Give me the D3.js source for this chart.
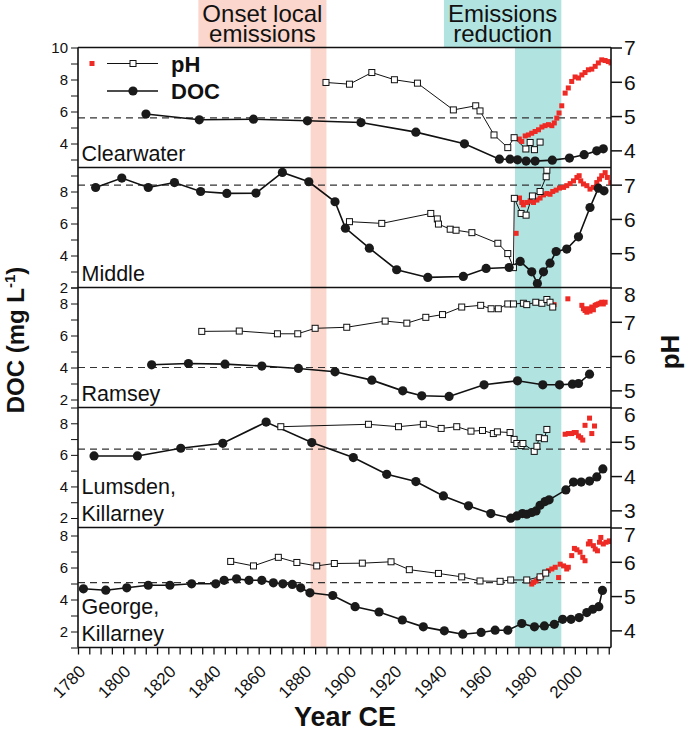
<!DOCTYPE html>
<html><head><meta charset="utf-8">
<script src="https://cdn.jsdelivr.net/npm/d3@7"></script>
<style>
body{margin:0;background:#fff}
svg{display:block}
text{font-family:"Liberation Sans",Arial,sans-serif;fill:#111}
</style>
</head><body>
<svg id="chart" width="685" height="731"></svg>
<script>
// ---------- axes / annotation data ----------
const yearDomain = [1780, 2016];
const xTickYears = d3.range(1780, 2016, 5);
const xLabelYears = d3.range(1780, 2001, 20);
const onsetBand = [1883, 1890];
const reductionBand = [1973.5, 1994];
const onsetLabel = ["Onset local", "emissions"];
const reductionLabel = ["Emissions", "reduction"];
const lakeNames = [["Clearwater"], ["Middle"], ["Ramsey"], ["Lumsden,", "Killarney"], ["George,", "Killarney"]];
const docDomains = [[2.5, 10], [2, 9.5], [1.5, 9], [1.4, 9], [1, 8.5]];
const phDomains = [[3.5, 7], [4, 7.5], [4.5, 8], [2.5, 6], [3.5, 7]];
const phTickValues = [[4, 5, 6, 7], [5, 6, 7], [5, 6, 7, 8], [3, 4, 5, 6], [4, 5, 6, 7]];
const preIndustrialDoc = [5.6, 8.4, 4.0, 6.36, 5.05];

// ---------- Clearwater ----------
const clearwaterDocYears = [1810.1,1833.7,1857.7,1881.6,1905.3,1929.6,1951.1,1966.6,1971.3,1974.6,1978.4,1982.4,1990,1997.6,2004.1,2009.7,2012.6];
const clearwaterDoc = [5.84,5.48,5.52,5.42,5.31,4.71,3.98,3.02,3.02,2.98,2.9,2.9,2.96,3.09,3.3,3.54,3.67];
const clearwaterPhYears = [1889.8,1900.2,1910.1,1920.1,1930.3,1946.2,1956.1,1958,1964.2,1970.3,1973.1,1978.3,1980.2,1982.1,1984.6];
const clearwaterPh = [5.98,5.93,6.27,6.06,5.96,5.18,5.3,5.15,4.45,4.08,4.37,4.04,4.23,4.02,4.24];
const clearwaterObsYears = [1975.4,1976.5,1978,1979.4,1980.9,1982.4,1983.9,1985.4,1986.8,1988.3,1989.8,1990.9,1992,1993,1994.2,1995.7,1997.1,1998.6,2000.1,2001.6,2003.1,2004.5,2006,2007.5,2009,2010.4,2011.9,2013.4,2014.8,2016];
const clearwaterObsPh = [4.33,4.26,4.42,4.45,4.5,4.55,4.6,4.68,4.72,4.75,4.72,4.8,4.94,5.09,5.3,5.67,5.82,6.01,6.14,6.11,6.2,6.27,6.35,6.37,6.45,6.55,6.64,6.62,6.59,6.55];

// ---------- Middle ----------
const middleDocYears = [1787.8,1799.4,1811.1,1822.7,1834.3,1845.9,1858.8,1870.5,1882.2,1893.8,1898.4,1909,1921.1,1934.9,1950.6,1960.7,1970.9,1975.8,1980.9,1983.4,1986.1,1989,1991.7,1996.4,2001.6,2006.7,2010.4,2012.9];
const middleDoc = [8.25,8.84,8.25,8.56,8.0,7.88,7.9,9.19,8.61,7.36,5.71,4.46,3.11,2.63,2.69,3.19,3.25,3.63,2.98,2.25,2.98,3.52,4.25,4.4,5.17,7.0,8.21,8.04];
const middlePhYears = [1900.2,1914.5,1936.2,1939.1,1939.6,1944.8,1947.4,1954.4,1965.9,1970.3,1972.8,1973.2,1976.2,1978.4,1981.2,1984.6,1987.3,1987.6];
const middlePh = [5.92,5.87,6.16,6.0,5.85,5.7,5.67,5.6,5.29,4.99,4.58,6.6,6.16,6.11,6.67,6.8,7.23,7.42];
const middleObsYears = [1974,1975.5,1976.5,1977.2,1978.7,1980.2,1981.7,1983.2,1984.6,1986.1,1987.6,1989,1990.2,1991.7,1993.2,1995,1996.4,1997.9,1999.4,2000.9,2001.9,2002.6,2003.8,2005.3,2006.7,2008.2,2009.7,2010.9,2011.9,2013.4,2014.4,2015.9];
const middleObsPh = [5.58,6.61,6.48,6.41,6.48,6.53,6.48,6.55,6.61,6.7,6.74,6.72,6.8,6.84,6.9,6.92,6.97,7.03,7.11,7.21,7.26,7.11,7.02,6.97,6.87,6.92,7.06,7.16,7.26,7.35,7.21,7.06];

// ---------- Ramsey ----------
const ramseyDocYears = [1812.6,1828.9,1845.1,1861.4,1877.6,1893.8,1910.1,1923.8,1932.2,1944.3,1959.8,1974.6,1985.8,1993.2,1998.9,2001.6,2006.5];
const ramseyDoc = [4.17,4.25,4.21,4.09,3.94,3.73,3.21,2.54,2.23,2.19,2.92,3.17,2.92,2.92,2.96,3.0,3.58];
const ramseyPhYears = [1834.8,1851.4,1868.3,1877.3,1885,1899,1916,1925.6,1934,1941.4,1949.9,1958.3,1962.9,1966.1,1970.3,1972.8,1977.2,1978.7,1982.7,1985.4,1987.6,1989,1990.2];
const ramseyPh = [6.72,6.73,6.65,6.65,6.81,6.84,7.02,6.96,7.13,7.21,7.43,7.48,7.38,7.38,7.52,7.52,7.54,7.5,7.57,7.54,7.65,7.57,7.43];
const ramseyObsYears = [1990.8,1996.9,2003.1,2003.8,2004.5,2005.3,2006,2006.7,2007.5,2008.2,2009,2009.7,2010.4,2011.2,2011.9,2012.6,2013.4];
const ramseyObsPh = [7.5,7.67,7.48,7.38,7.33,7.28,7.38,7.31,7.43,7.35,7.48,7.5,7.52,7.54,7.57,7.52,7.57];

// ---------- Lumsden ----------
const lumsdenDocYears = [1787.1,1806.3,1825.5,1844.1,1863.3,1883.5,1901.9,1916.7,1929.6,1941.8,1952.9,1962.8,1971.6,1974.3,1976.8,1978.7,1980.9,1982.8,1984.6,1986.8,1988.6,1996,1999.4,2002.8,2006.5,2009.7,2012.4];
const lumsdenDoc = [5.93,5.93,6.42,6.73,8.08,6.78,5.83,4.77,4.31,3.4,2.77,2.28,1.99,2.13,2.28,2.24,2.35,2.45,2.81,3.04,3.15,3.78,4.28,4.28,4.34,4.6,5.11];
const lumsdenPhYears = [1869.8,1908.6,1921.9,1932.9,1940.8,1947.7,1954,1959.1,1963.9,1965.7,1971.3,1973.1,1974.3,1976.2,1977,1982,1983.2,1984.2,1986.5,1987.6];
const lumsdenPh = [5.44,5.51,5.44,5.51,5.39,5.44,5.31,5.33,5.24,5.29,5.27,5.07,4.95,4.89,4.95,4.72,4.87,5.12,5.09,5.36];
const lumsdenObsYears = [1995.7,1997.1,1998.6,1999.7,2000.6,2001.6,2002.6,2003.5,2004.5,2006.5,2007.5,2008.7];
const lumsdenObsPh = [5.22,5.24,5.24,5.27,5.27,5.17,5.12,5.05,5.48,5.69,5.24,5.46];

// ---------- George ----------
const georgeDocYears = [1782.4,1792.3,1801.6,1811.1,1820.7,1830.3,1841,1844.7,1850.2,1855.7,1861.4,1866.5,1870.7,1874.9,1878.6,1882.7,1892.8,1902.7,1913.3,1923.6,1932.9,1942.2,1950.4,1958.5,1964.7,1970.3,1976.5,1982.1,1986.5,1990.9,1994.6,1998.3,2001.9,2005.3,2007.9,2010.6,2012.2];
const georgeDoc = [4.67,4.58,4.73,4.89,4.89,4.98,4.98,5.2,5.29,5.2,5.2,5.04,4.98,4.94,4.73,4.42,4.25,3.55,3.22,2.72,2.29,2.04,1.83,1.94,2.08,2.08,2.5,2.29,2.35,2.45,2.76,2.76,2.87,3.18,3.39,3.55,4.57];
const georgePhYears = [1847.6,1857.7,1868.7,1876.9,1885.7,1893.5,1905.9,1918.6,1926.7,1939.6,1949.9,1958,1966.9,1971.6,1978.7,1984.6,1987.1];
const georgePh = [6.01,5.88,6.13,5.98,5.88,5.95,5.96,6.0,5.77,5.66,5.56,5.44,5.43,5.47,5.47,5.56,5.67];
const georgeObsYears = [1980.9,1981.7,1982.8,1983.9,1985.4,1986.8,1988.3,1989.8,1991.3,1992.8,1993.5,1995,1996.4,1997.1,1998.6,1999.8,2000.9,2002.3,2003.5,2004.5,2006,2006.7,2008.2,2009,2010,2010.9,2011.5,2012.6,2013.8,2015.3,2015.9];
const georgeObsPh = [5.35,5.4,5.44,5.51,5.59,5.69,5.74,5.79,5.84,5.54,5.93,5.88,5.79,5.84,6.18,6.39,6.35,6.28,6.13,6.03,6.52,6.59,6.47,6.37,6.32,6.57,6.71,6.52,6.57,6.61,6.59];

// ---------- build ----------
const zip = (xs, ys) => xs.map((v, i) => [v, ys[i]]);
const panels = [
  {doc: zip(clearwaterDocYears, clearwaterDoc), ph: zip(clearwaterPhYears, clearwaterPh), obs: zip(clearwaterObsYears, clearwaterObsPh)},
  {doc: zip(middleDocYears, middleDoc), ph: zip(middlePhYears, middlePh), obs: zip(middleObsYears, middleObsPh)},
  {doc: zip(ramseyDocYears, ramseyDoc), ph: zip(ramseyPhYears, ramseyPh), obs: zip(ramseyObsYears, ramseyObsPh)},
  {doc: zip(lumsdenDocYears, lumsdenDoc), ph: zip(lumsdenPhYears, lumsdenPh), obs: zip(lumsdenObsYears, lumsdenObsPh)},
  {doc: zip(georgeDocYears, georgeDoc), ph: zip(georgePhYears, georgePh), obs: zip(georgeObsYears, georgeObsPh)}
];

const PINK = "#fad6cc", CYAN = "#b1e3e0", RED = "#ee2a24", INK = "#111";
const X0 = 78, X1 = 611, TOP = 47.5, PH = 120, NP = 5, BOTTOM = TOP + PH * NP;
const svg = d3.select("#chart");
const x = d3.scaleLinear().domain(yearDomain).range([X0, X1]);

// bands
function band(b, color) {
  svg.append("rect").attr("x", x(b[0])).attr("y", TOP).attr("width", x(b[1]) - x(b[0])).attr("height", BOTTOM - TOP).attr("fill", color);
}
band(onsetBand, PINK);
band(reductionBand, CYAN);

// band labels
function bandLabel(b, lines, color) {
  const g = svg.append("g");
  const rect = g.append("rect").attr("fill", color);
  const ts = lines.map((l, i) => g.append("text").attr("text-anchor", "middle").attr("y", 21.5 + i * 20).style("font-size", "24px").text(l));
  const w = d3.max(ts, t => t.node().getComputedTextLength()) + 8;
  const right = x(b[1]);
  rect.attr("x", right - w).attr("y", 0).attr("width", w).attr("height", TOP);
  ts.forEach(t => t.attr("x", right - w / 2));
}
bandLabel(onsetBand, onsetLabel, PINK);
bandLabel(reductionBand, reductionLabel, CYAN);

panels.forEach((p, i) => {
  const top = TOP + i * PH, bot = top + PH;
  const yD = d3.scaleLinear().domain(docDomains[i]).range([bot, top]);
  const yP = d3.scaleLinear().domain(phDomains[i]).range([bot, top]);
  const g = svg.append("g");
  const clip = "clip" + i;
  svg.append("clipPath").attr("id", clip).append("rect").attr("x", X0).attr("y", top).attr("width", X1 - X0).attr("height", PH);

  // dashed pre-industrial DOC
  g.append("line").attr("x1", X0).attr("x2", X1).attr("y1", yD(preIndustrialDoc[i])).attr("y2", yD(preIndustrialDoc[i]))
    .attr("stroke", "#333").attr("stroke-width", 1.2).attr("stroke-dasharray", "7,5");

  const dg = g.append("g").attr("clip-path", `url(#${clip})`);
  dg.append("path").datum(p.ph).attr("fill", "none").attr("stroke", INK).attr("stroke-width", 1)
    .attr("d", d3.line().x(d => x(d[0])).y(d => yP(d[1])));
  dg.append("path").datum(p.doc).attr("fill", "none").attr("stroke", INK).attr("stroke-width", 1.6)
    .attr("d", d3.line().x(d => x(d[0])).y(d => yD(d[1])));
  dg.selectAll(".o").data(p.obs).join("rect").attr("x", d => x(d[0]) - 2.5).attr("y", d => yP(d[1]) - 2.5)
    .attr("width", 5).attr("height", 5).attr("fill", RED);
  dg.selectAll(".s").data(p.ph).join("rect").attr("x", d => x(d[0]) - 3).attr("y", d => yP(d[1]) - 3)
    .attr("width", 6).attr("height", 6).attr("fill", "#fff").attr("stroke", INK).attr("stroke-width", 1);
  dg.selectAll(".c").data(p.doc).join("circle").attr("cx", d => x(d[0])).attr("cy", d => yD(d[1])).attr("r", 4.6).attr("fill", "#1a1a1a");

  // left axis
  const dt = d3.range(Math.ceil(docDomains[i][0]), Math.floor(docDomains[i][1]) + 1);
  const la = svg.append("g").attr("transform", `translate(${X0},0)`)
    .call(d3.axisLeft(yD).tickValues(dt).tickSize(7).tickPadding(3).tickFormat(d => d % 2 === 0 ? d : ""));
  la.select(".domain").remove();
  la.selectAll("text").style("font-size", "15px").attr("fill", INK);
  la.selectAll("line").attr("stroke", INK);

  // right axis
  const ra = svg.append("g").attr("transform", `translate(${X1},0)`)
    .call(d3.axisRight(yP).tickValues(phTickValues[i]).tickSize(11).tickPadding(2).tickFormat(d3.format("d")));
  ra.select(".domain").remove();
  ra.selectAll("text").style("font-size", "21px").attr("fill", INK)
    .attr("dy", d => (i > 0 && d === phDomains[i][1]) ? "0.68em" : "0.35em");
  ra.selectAll("line").attr("stroke", INK).attr("stroke-width", 1.5);

  // lake name
  lakeNames[i].forEach((l, k, arr) => svg.append("text").attr("x", 81.5).attr("y", bot - 7 - (arr.length - 1 - k) * 26.5)
    .style("font-size", "21.5px").text(l));

  // panel separator
  svg.append("line").attr("x1", X0).attr("x2", X1).attr("y1", bot).attr("y2", bot).attr("stroke", INK).attr("stroke-width", 1.6);
});

// frame
svg.append("line").attr("x1", X0).attr("x2", X1).attr("y1", TOP).attr("y2", TOP).attr("stroke", INK).attr("stroke-width", 1.6);
svg.append("line").attr("x1", X0).attr("x2", X0).attr("y1", TOP).attr("y2", BOTTOM).attr("stroke", INK).attr("stroke-width", 1.6);
svg.append("line").attr("x1", X1).attr("x2", X1).attr("y1", TOP).attr("y2", BOTTOM).attr("stroke", INK).attr("stroke-width", 1.6);

// bottom axis
const xa = svg.append("g").attr("transform", `translate(0,${BOTTOM})`)
  .call(d3.axisBottom(x).tickValues(xTickYears).tickSize(7).tickFormat(d => xLabelYears.includes(d) ? d : ""));
xa.select(".domain").remove();
xa.selectAll("line").attr("stroke", INK).attr("stroke-width", 1.3);
xa.selectAll("text").style("font-size", "17px").attr("fill", INK)
  .attr("text-anchor", "end").attr("dy", null).attr("y", 0)
  .attr("transform", "translate(8,25) rotate(-45)");

// legend
const lg = svg.append("g");
lg.append("rect").attr("x", 89.5).attr("y", 61).attr("width", 5).attr("height", 5).attr("fill", RED);
lg.append("line").attr("x1", 107).attr("x2", 158).attr("y1", 63.5).attr("y2", 63.5).attr("stroke", INK).attr("stroke-width", 1);
lg.append("rect").attr("x", 130).attr("y", 60.5).attr("width", 6).attr("height", 6).attr("fill", "#fff").attr("stroke", INK);
lg.append("text").attr("x", 171).attr("y", 71.5).style("font-size", "22px").style("font-weight", "bold").text("pH");
lg.append("line").attr("x1", 107).attr("x2", 158).attr("y1", 91).attr("y2", 91).attr("stroke", INK).attr("stroke-width", 1.6);
lg.append("circle").attr("cx", 133).attr("cy", 91).attr("r", 4.6).attr("fill", "#1a1a1a");
lg.append("text").attr("x", 171).attr("y", 99).style("font-size", "22px").style("font-weight", "bold").text("DOC");

// axis titles
svg.append("text").attr("transform", "translate(345,726)").attr("text-anchor", "middle")
  .style("font-size", "27px").style("font-weight", "bold").text("Year CE");
const yt = svg.append("text").attr("transform", "translate(24,340) rotate(-90)").attr("text-anchor", "middle")
  .style("font-size", "24px").style("font-weight", "bold");
yt.append("tspan").text("DOC (mg L");
yt.append("tspan").attr("dy", -9).style("font-size", "15px").text("-1");
yt.append("tspan").attr("dy", 9).text(")");
svg.append("text").attr("transform", "translate(679,352) rotate(-90)").attr("text-anchor", "middle")
  .style("font-size", "26px").style("font-weight", "bold").text("pH");
</script>
</body></html>
